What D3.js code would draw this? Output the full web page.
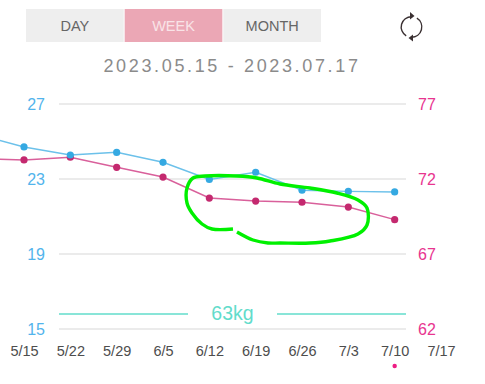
<!DOCTYPE html>
<html>
<head>
<meta charset="utf-8">
<script src="https://cdn.jsdelivr.net/npm/d3@7"></script>
<style>
  html, body { margin: 0; padding: 0; background: #fff; overflow: hidden; }
  text { font-family: "Liberation Sans", Arial, sans-serif; }
  .domain { display: none; }
</style>
</head>
<body>
<div id="chart"></div>
<script>
//Data
const weeks = ['5/15', '5/22', '5/29', '6/5', '6/12', '6/19', '6/26', '7/3', '7/10', '7/17'];
//first value of each series is the week before 5/15, off the left edge
const seriesWeeks = [-1, 0, 1, 2, 3, 4, 5, 6, 7, 8];
const blueValues = [25.37, 24.71, 24.28, 24.42, 23.89, 22.98, 23.36, 22.4, 22.34, 22.31];
const pinkValues = [73.37, 73.27, 73.45, 72.78, 72.13, 70.73, 70.53, 70.45, 70.13, 69.29];
const leftTicks = [15, 19, 23, 27];
const rightTicks = [62, 67, 72, 77];
const tabs = ['DAY', 'WEEK', 'MONTH'];
const targetLabel = '63kg';
const targetValue = 63;
const dateRange = '2023.05.15 - 2023.07.17';

//Hand drawn green loop on top of the chart, in page pixels
const scribble = [[233, 229], [212, 229], [202, 224], [192, 213], [187, 203], [187, 188], [193, 178],
    [205, 176], [237, 176], [257, 178], [280, 184], [310, 188], [337, 193], [358, 200], [367, 208],
    [367, 225], [358, 234], [330, 241], [310, 243], [280, 243], [268, 243], [253, 240], [237, 232]];

const width = 485;
const height = 384;

const svg = d3.select('#chart')
    .append('svg')
    .attr('width', width)
    .attr('height', height)
    .style('display', 'block');

/*#########
Top controls
#########*/
const tabX = d3.scaleBand().domain(tabs).range([26, 321]).paddingInner(0.01);
svg.selectAll('.tab')
    .data(tabs)
    .join('rect')
    .attr('class', 'tab')
    .attr('x', d => tabX(d))
    .attr('y', 9)
    .attr('width', tabX.bandwidth())
    .attr('height', 33)
    .style('fill', d => d === 'WEEK' ? '#eba7b5' : '#eeeeee');
svg.selectAll('.tabLabel')
    .data(tabs)
    .join('text')
    .attr('class', 'tabLabel')
    .attr('x', d => tabX(d) + tabX.bandwidth() / 2)
    .attr('y', 31)
    .attr('text-anchor', 'middle')
    .style('font-size', '14.5px')
    .style('fill', d => d === 'WEEK' ? '#f9e3e7' : '#666666')
    .text(d => d);

svg.append('text')
    .attr('x', 232)
    .attr('y', 72)
    .attr('text-anchor', 'middle')
    .style('font-size', '18px')
    .style('letter-spacing', '2.65px')
    .style('fill', '#8b8b8b')
    .text(dateRange);

//Refresh icon
const icon = svg.append('g').attr('transform', 'translate(411.5,27)');
const iconArc = d3.arc().innerRadius(9.6).outerRadius(11);
[[-2.6, 0], [0.55, Math.PI]].forEach(a => {
    icon.append('path')
        .attr('d', iconArc({startAngle: a[0], endAngle: a[1]}))
        .style('fill', '#3a3032');
});
icon.append('path').attr('d', 'M3,-11 L-1.5,-15 L-1.5,-7.5 Z').style('fill', '#3a3032');
icon.append('path').attr('d', 'M-3,11 L1.5,7.5 L1.5,14.5 Z').style('fill', '#3a3032');

/*##########
Scales and axes
##########*/
const x = d3.scaleLinear().domain([0, 9]).range([24, 441]);
const yLeft = d3.scaleLinear().domain([15, 27]).range([329, 104]);
const yRight = d3.scaleLinear().domain([62, 77]).range([329, 104]);

svg.append('g')
    .attr('transform', 'translate(59,0)')
    .call(d3.axisLeft(yLeft).tickValues(leftTicks).tickSize(0).tickPadding(14))
    .call(g => g.selectAll('text').style('font-size', '16px').style('fill', '#52b4ec'));
svg.append('g')
    .attr('transform', 'translate(406,0)')
    .call(d3.axisRight(yRight).tickValues(rightTicks).tickSize(0).tickPadding(12))
    .call(g => g.selectAll('text').style('font-size', '16px').style('fill', '#e8358f'));

//Grid lines
svg.append('g')
    .selectAll('line')
    .data(leftTicks)
    .join('line')
    .attr('x1', 59)
    .attr('x2', 406)
    .attr('y1', d => yLeft(d))
    .attr('y2', d => yLeft(d))
    .style('stroke', '#e4e4e4')
    .style('stroke-width', 1.3);

svg.append('g')
    .attr('transform', 'translate(0,346)')
    .call(d3.axisBottom(x).tickValues(d3.range(weeks.length)).tickFormat(i => weeks[i]).tickSize(0).tickPadding(0))
    .call(g => g.selectAll('text').style('font-size', '14.5px').style('fill', '#4d4d4d'));

/*#########
Target line
#########*/
const targetY = yRight(targetValue);
[[59, 188], [277, 406]].forEach(seg => {
    svg.append('line')
        .attr('x1', seg[0])
        .attr('x2', seg[1])
        .attr('y1', targetY)
        .attr('y2', targetY)
        .style('stroke', '#62dccb')
        .style('stroke-width', 1.4);
});
svg.append('text')
    .attr('x', 232.5)
    .attr('y', targetY + 6)
    .attr('text-anchor', 'middle')
    .style('font-size', '19.5px')
    .style('fill', '#62dccb')
    .text(targetLabel);

/*#########
Draw series
#########*/
const drawSeries = (values, yScale, lineColor, dotColor) => {
    svg.append('path')
        .datum(values)
        .attr('d', d3.line().x((d, i) => x(seriesWeeks[i])).y(d => yScale(d)))
        .style('fill', 'none')
        .style('stroke', lineColor)
        .style('stroke-width', 1.5);
    svg.append('g')
        .selectAll('circle')
        .data(values)
        .join('circle')
        .attr('cx', (d, i) => x(seriesWeeks[i]))
        .attr('cy', d => yScale(d))
        .attr('r', 3.6)
        .style('fill', dotColor);
};
drawSeries(pinkValues, yRight, '#d9609b', '#c4296f');
drawSeries(blueValues, yLeft, '#6cc1ea', '#35a9e2');

//Marker under the latest week
svg.append('circle')
    .attr('cx', x(8))
    .attr('cy', 366)
    .attr('r', 2.2)
    .style('fill', '#ee1c84');

/*#########
Green loop
#########*/
svg.append('path')
    .attr('d', d3.line().curve(d3.curveCatmullRom)(scribble))
    .style('fill', 'none')
    .style('stroke', '#00f000')
    .style('stroke-width', 3.4)
    .style('stroke-linecap', 'butt');
</script>
</body>
</html>
